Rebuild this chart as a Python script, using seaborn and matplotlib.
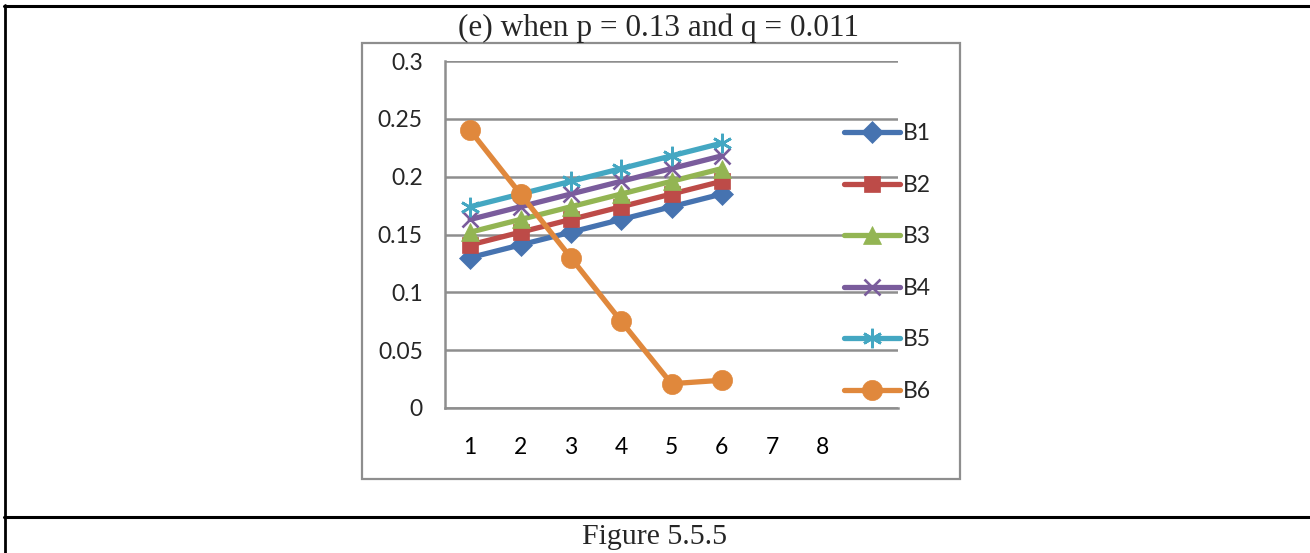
import matplotlib
matplotlib.use("Agg")
import matplotlib.pyplot as plt
import seaborn as sns
import pandas as pd
from matplotlib.lines import Line2D
from matplotlib.patches import Rectangle

# ---- data ----
steps = [1, 2, 3, 4, 5, 6]
x_labels = ["1", "2", "3", "4", "5", "6", "7", "8"]
B1 = [0.130, 0.141, 0.152, 0.163, 0.174, 0.185]
B2 = [0.141, 0.152, 0.163, 0.174, 0.185, 0.196]
B3 = [0.152, 0.163, 0.174, 0.185, 0.196, 0.207]
B4 = [0.163, 0.174, 0.185, 0.196, 0.207, 0.218]
B5 = [0.174, 0.185, 0.196, 0.207, 0.218, 0.229]
B6 = [0.240, 0.185, 0.130, 0.075, 0.021, 0.024]
series_names = ["B1", "B2", "B3", "B4", "B5", "B6"]
series_values = [B1, B2, B3, B4, B5, B6]
y_ticks = [0, 0.05, 0.1, 0.15, 0.2, 0.25, 0.3]
y_tick_labels = ["0", "0.05", "0.1", "0.15", "0.2", "0.25", "0.3"]
title = "(e) when p = 0.13 and q = 0.011"
caption = "Figure 5.5.5"

colors = ["#4673B0", "#BD4B48", "#93B553", "#7A5C9C", "#44A7C2", "#E0883C"]
markers = ["D", "s", "^", "x", (6, 2, 0), "o"]
msizes = [11.5, 12, 12.5, 12, 14, 14.5]

rows = []
for name, vals in zip(series_names, series_values):
    for s, v in zip(steps, vals):
        rows.append({"step": s - 0.5, "value": v, "series": name})
df = pd.DataFrame(rows)

sns.set_theme(style="white")
plt.rcParams["font.family"] = ["Lato", "DejaVu Sans"]

fig = plt.figure(figsize=(13.1, 5.53), dpi=100)

# outer borders
W, H = 1310, 553
def fx(px):
    return px / W
def fy(py):
    return 1 - py / H

fig.add_artist(Line2D([fx(4), fx(1310)], [fy(5.5), fy(5.5)], color="black", lw=2.2))
fig.add_artist(Line2D([fx(4.5), fx(4.5)], [fy(5), fy(553)], color="black", lw=2.0))
fig.add_artist(Line2D([fx(4), fx(1310)], [fy(517), fy(517)], color="black", lw=2.2))
# chart area box
fig.add_artist(Rectangle((fx(362), fy(479)), fx(960) - fx(362), fy(43) - fy(479),
                         fill=False, edgecolor="#8e8e8e", lw=1.6))

ax = fig.add_axes([fx(445), fy(408), fx(898) - fx(445), fy(61) - fy(408)])

def mew(mk):
    return 1.9 if mk in ("x", (6, 2, 0)) else 0.5

for name, col, mk, ms in zip(series_names, colors, markers, msizes):
    sub = df[df["series"] == name]
    sns.lineplot(data=sub, x="step", y="value", ax=ax, color=col, lw=3.8,
                 marker=mk, markersize=ms, markeredgecolor=col,
                 markeredgewidth=mew(mk), legend=False)

ax.set_xlim(0, 9)
ax.set_ylim(0, 0.3)
ax.set_yticks(y_ticks)
ax.set_yticklabels(y_tick_labels, fontsize=16.5)
ax.set_xticks(range(0, 10))
ax.set_xticklabels([])
ax.set_xticks([i + 0.5 for i in range(len(x_labels))], minor=True)
ax.set_xticklabels(x_labels, minor=True, fontsize=16.5)
ax.tick_params(axis="x", which="minor", length=0, pad=21, colors="black")
ax.tick_params(axis="x", which="major", length=8, width=1.8, color="#8e8e8e", direction="out")
ax.tick_params(axis="y", length=8, width=1.8, color="#8e8e8e", direction="out", pad=8)
ax.set_xlabel("")
ax.set_ylabel("")
ax.yaxis.grid(True, color="#8e8e8e", lw=1.8)
ax.set_axisbelow(True)
for side in ["top", "right"]:
    ax.spines[side].set_visible(False)
for side in ["left", "bottom"]:
    ax.spines[side].set_color("#8e8e8e")
    ax.spines[side].set_linewidth(1.8)
ax.set_facecolor("none")

handles = [Line2D([0], [0], color=c, lw=3.8, marker=m, markersize=ms, markeredgecolor=c,
                  markeredgewidth=mew(m))
           for c, m, ms in zip(colors, markers, msizes)]
fig.legend(handles, series_names, loc="upper left", bbox_to_anchor=(fx(835), fy(114)),
           frameon=False, fontsize=16.5, handlelength=2.45, handletextpad=0.12,
           labelspacing=1.33, borderaxespad=0)

fig.text(fx(658), fy(28), title, ha="center", va="center", fontsize=22.5,
         family="Liberation Serif")
fig.text(fx(655), fy(537), caption, ha="center", va="center", fontsize=21.5,
         family="Liberation Serif")

fig.savefig("out.png", dpi=100)
